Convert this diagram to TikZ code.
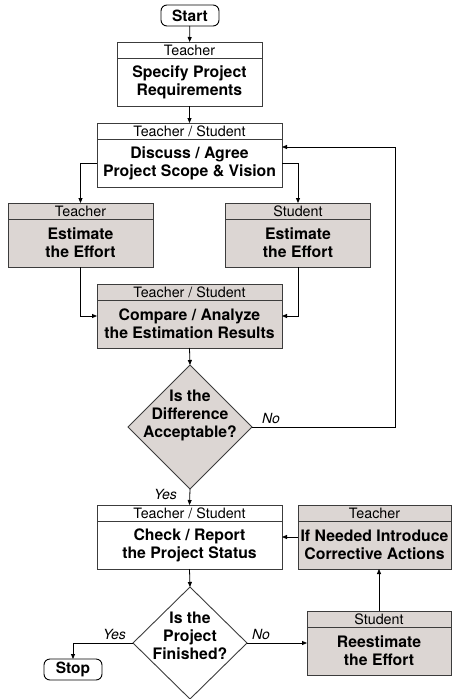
\documentclass[tikz,border=0pt]{standalone}
\usepackage{fontspec}
\setmainfont{TeX Gyre Heros}
\usetikzlibrary{shapes.geometric,positioning,calc,arrows.meta}

\definecolor{boxfill}{RGB}{220,214,211}
\definecolor{boxline}{RGB}{60,60,60}

\tikzset{
  arr/.style={draw=black, line width=0.8pt, -{Triangle[length=5pt,width=4pt]}},
  terminal/.style={draw=black, line width=0.9pt, rounded corners=6pt,
    minimum width=58pt, minimum height=21pt, inner sep=0pt, outer sep=0pt,
    font=\fontsize{15.5}{17}\selectfont\bfseries},
  hdr/.style={draw=boxline, line width=0.9pt, minimum height=16pt, inner sep=0pt,
    outer sep=0pt, font=\fontsize{14.3}{16}\selectfont},
  body/.style={draw=boxline, line width=0.9pt, minimum height=48pt, inner sep=0pt,
    outer sep=0pt, align=center, font=\fontsize{15.8}{18}\selectfont\bfseries},
  shaded/.style={fill=boxfill},
  decision/.style={draw=boxline, line width=0.9pt, shape=diamond, inner sep=0pt,
    outer sep=0pt},
  dtext/.style={align=center, font=\fontsize{15.8}{18}\selectfont\bfseries},
  lbl/.style={font=\fontsize{14}{16}\selectfont\itshape, inner sep=0pt},
}

\begin{document}
\begin{tikzpicture}[x=1pt,y=-1pt]
\useasboundingbox (0,0) rectangle (452,699);

% start
\node[terminal] (start) at (190,15.5) {Start};

% specify requirements
\node[hdr, minimum width=145pt] (spech) at (189.5,50) {Teacher};
\node[body, minimum width=145pt, below=0pt of spech] (spec) {Specify Project\\Requirements};

% discuss scope
\node[hdr, minimum width=185pt] (disch) at (189.5,131) {Teacher / Student};
\node[body, minimum width=185pt, below=0pt of disch] (disc) {Discuss / Agree\\Project Scope \& Vision};

% two independent estimates
\node[hdr, shaded, minimum width=145pt] (testh) at (80.5,211) {Teacher};
\node[body, shaded, minimum width=145pt, below=0pt of testh] (test) {Estimate\\the Effort};
\node[hdr, shaded, minimum width=145pt] (sesth) at (298,211) {Student};
\node[body, shaded, minimum width=145pt, below=0pt of sesth] (sest) {Estimate\\the Effort};

% comparison
\node[hdr, shaded, minimum width=185pt] (comph) at (189.5,292) {Teacher / Student};
\node[body, shaded, minimum width=185pt, below=0pt of comph] (comp) {Compare / Analyze\\the Estimation Results};

% first decision
\node[decision, shaded, minimum width=124pt, minimum height=124pt] (d1) at (190,427) {};
\node[dtext] (d1t) at (190,415) {Is the\\Difference\\Acceptable?};

% status check
\node[hdr, minimum width=185pt] (checkh) at (189.5,513) {Teacher / Student};
\node[body, minimum width=185pt, below=0pt of checkh] (check) {Check / Report\\the Project Status};

% corrective actions
\node[hdr, shaded, minimum width=153pt] (corrh) at (374.5,513) {Teacher};
\node[body, shaded, minimum width=153pt, below=0pt of corrh] (corr) {If Needed Introduce\\Corrective Actions};

% second decision
\node[decision, minimum width=114pt, minimum height=112pt] (d2) at (190,643) {};
\node[dtext] (d2t) at (190,636) {Is the\\Project\\Finished?};

% re-estimation
\node[hdr, shaded, minimum width=144pt] (reesth) at (379,619) {Student};
\node[body, shaded, minimum width=144pt, below=0pt of reesth] (reest) {Reestimate\\the Effort};

% stop
\node[terminal] (stop) at (73,669.5) {Stop};

% box midpoints used by side connectors
\coordinate (compW) at ($(comph.north west)!0.5!(comp.south west)$);
\coordinate (compE) at ($(comph.north east)!0.5!(comp.south east)$);
\coordinate (checkE) at ($(checkh.north east)!0.5!(check.south east)$);
\coordinate (corrW) at ($(corrh.north west)!0.5!(corr.south west)$);
\coordinate (reestW) at ($(reesth.north west)!0.5!(reest.south west)$);
\coordinate (loop) at (395,427);

% connectors
\draw[arr] (start) -- (spech);
\draw[arr] (spec) -- (disch);
\draw[arr] (disc.west) -| (testh.north);
\draw[arr] (disc.east) -| (sesth.north);
\draw[arr] (test.south) |- (compW);
\draw[arr] (sest.south) |- (compE);
\draw[arr] (comp.south) -- (d1.north);
\draw[arr] (d1.east) -- (loop) |- ([yshift=16pt]disc.east);
\node[lbl, anchor=south west] (no1) at ([xshift=10pt,yshift=3pt]d1.east) {No};
\draw[arr] (d1.south) -- (checkh.north);
\node[lbl, anchor=east] (yes1) at ([xshift=-13pt,yshift=-5pt]d1.south) {Yes};
\draw[arr] (corrW) -- (corrW -| checkE);
\draw[arr] (check.south) -- (d2.north);
\draw[arr] (d2.east) -- (d2.east -| reestW);
\node[lbl, anchor=south west] (no2) at ([xshift=5pt,yshift=3pt]d2.east) {No};
\draw[arr] (reesth.north) -- (reesth.north |- corr.south);
\draw[arr] (d2.west) -| (stop.north);
\node[lbl, anchor=south east] (yes2) at ([xshift=-7pt,yshift=3pt]d2.west) {Yes};
\end{tikzpicture}
\end{document}
